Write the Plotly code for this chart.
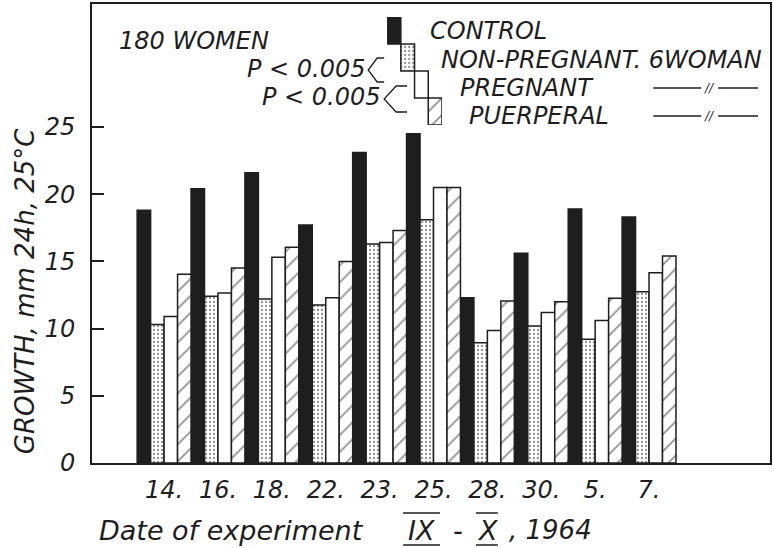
import plotly.graph_objects as go

# ---- data ----
dates = ["14.", "16.", "18.", "22.", "23.", "25.", "28.", "30.", "5.", "7."]
control = [18.8, 20.4, 21.6, 17.7, 23.1, 24.5, 12.3, 15.6, 18.9, 18.3]
non_pregnant = [10.3, 12.4, 12.2, 11.75, 16.3, 18.1, 8.95, 10.2, 9.2, 12.75]
pregnant = [10.9, 12.65, 15.3, 12.3, 16.4, 20.5, 9.85, 11.2, 10.6, 14.15]
puerperal = [14.05, 14.5, 16.05, 15.0, 17.3, 20.5, 12.05, 12.0, 12.25, 15.4]
y_ticks = [0, 5, 10, 15, 20, 25]

W, H = 774, 548
L, R, T, B = 92, 2, 4, 85
PW, PH = W - L - R, H - T - B


def fx(px):
    return (px - L) / PW


def fy(py):
    return (H - B - py) / PH


INK = "#1e1e1e"
FONT = dict(family="DejaVu Sans", size=24, color=INK, style="italic", weight=200)

x = list(range(len(dates)))
series = [
    ("CONTROL", control, dict(color=INK)),
    ("NON-PREGNANT", non_pregnant,
     dict(color="white", pattern=dict(shape=".", size=4, solidity=0.25, fgcolor=INK, bgcolor="white"))),
    ("PREGNANT", pregnant, dict(color="white")),
    ("PUERPERAL", puerperal,
     dict(color="white", pattern=dict(shape="/", size=12, solidity=0.14, fgcolor=INK, bgcolor="white"))),
]

fig = go.Figure()
for k, (name, vals, mk) in enumerate(series):
    m = dict(mk)
    m["line"] = dict(color=INK, width=1.5)
    fig.add_trace(go.Bar(x=x, y=vals, width=0.25, offset=-0.5 + 0.25 * k,
                         marker=m, name=name, showlegend=False))

# legend swatches (staircase) on an auxiliary axis
for k, (name, vals, mk) in enumerate(series):
    m = dict(mk)
    m["line"] = dict(color=INK, width=1.5)
    fig.add_trace(go.Bar(x=[k + 0.5], y=[1], base=[3 - k], width=1, offset=-0.5,
                         marker=m, xaxis="x2", yaxis="y2", showlegend=False,
                         hoverinfo="skip"))

annotations = []


def text(t, px, py, anchor="left", size=24, angle=0):
    f = dict(FONT)
    f["size"] = size
    annotations.append(dict(text=t, x=fx(px), y=fy(py), xref="paper", yref="paper",
                            xanchor=anchor, yanchor="middle", showarrow=False,
                            font=f, textangle=angle))


text("180 WOMEN", 117, 41)
text("CONTROL", 429, 31)
text("NON-PREGNANT. 6WOMAN", 440, 60)
text("PREGNANT", 459, 88)
text("PUERPERAL", 468, 116)
text("P &lt; 0.005", 369, 69, anchor="right")
text("P &lt; 0.005", 384, 97, anchor="right")
text("//", 711, 88, anchor="center", size=12)
text("//", 711, 116, anchor="center", size=12)
text("GROWTH, mm 24h, 25°C", 25, 291, anchor="center", size=26, angle=-90)
text("Date of experiment", 97, 530, size=27)
text("IX", 422, 530, anchor="center", size=27)
text("-", 459, 530, anchor="center", size=27)
text("X", 489, 530, anchor="center", size=27)
text(", 1964", 508, 530, size=26)

shapes = []


def line(x0, y0, x1, y1, w=1.3):
    shapes.append(dict(type="line", xref="paper", yref="paper",
                       x0=fx(x0), y0=fy(y0), x1=fx(x1), y1=fy(y1),
                       line=dict(color=INK, width=w)))


def poly(pts, w=1.3):
    path = "M " + " L ".join(f"{fx(a)},{fy(b)}" for a, b in pts)
    shapes.append(dict(type="path", xref="paper", yref="paper", path=path,
                       line=dict(color=INK, width=w)))


poly([(385, 58), (378, 58), (369, 70), (378, 82), (385, 82)])
poly([(408, 86), (397, 86), (385, 99), (397, 112), (408, 112)])
for yy in (88, 116):
    line(655, yy, 703, yy)
    line(720, yy, 760, yy)
# over/underlines of the Roman numerals
for a, b in ((404, 441), (477, 499)):
    line(a, 513, b, 513, 1.5)
    line(a, 545, b, 545, 1.5)

fig.update_layout(
    width=W, height=H, margin=dict(l=L, r=R, t=T, b=B, pad=0),
    paper_bgcolor="white", plot_bgcolor="white",
    barmode="overlay", font=FONT,
    annotations=annotations, shapes=shapes,
    xaxis=dict(range=[-1.338, 11.245], tickvals=x, ticktext=dates, ticks="",
               showgrid=False, zeroline=False, showline=True, linecolor=INK,
               linewidth=2, mirror=True, tickfont=FONT, ticklabelstandoff=4),
    yaxis=dict(range=[0, 34.15], tickvals=y_ticks, ticks="inside", ticklen=12,
               tickwidth=1.5, tickcolor=INK, showgrid=False, zeroline=False,
               showline=True, linecolor=INK, linewidth=2, mirror=True,
               tickfont=FONT, ticklabelstandoff=10),
    xaxis2=dict(domain=[fx(388), fx(443)], range=[0, 4], visible=False,
                anchor="y2", fixedrange=True),
    yaxis2=dict(domain=[fy(125), fy(17)], range=[0, 4], visible=False,
                anchor="x2", fixedrange=True),
)

fig.write_html("out.html")
